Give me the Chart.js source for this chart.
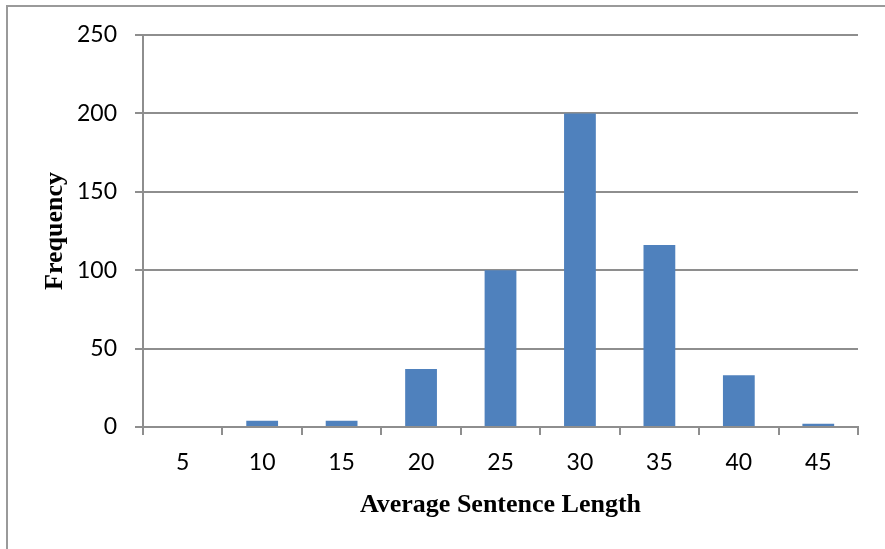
<!DOCTYPE html>
<html>
<head>
<meta charset="utf-8">
<script src="https://cdn.jsdelivr.net/npm/chart.js@4/dist/chart.umd.min.js"></script>
<style>
  html, body { margin: 0; padding: 0; background: #fff; }
  #wrap { position: relative; width: 885px; height: 549px; overflow: hidden; }
  #frame {
    position: absolute; left: 6px; top: 5px; width: 1000px; height: 1000px;
    border-left: 2px solid #9a9a9a; border-top: 2px solid #9a9a9a;
  }
  #c { position: absolute; left: 0; top: 0; }
</style>
</head>
<body>
<div id="wrap">
  <div id="frame"></div>
  <canvas id="c" width="885" height="549"></canvas>
</div>
<script>
// Histogram of average sentence length
const sentenceLengths = ['5', '10', '15', '20', '25', '30', '35', '40', '45'];
const frequencies = [0, 4, 4, 37, 100, 200, 116, 33, 2];
const frequencyTicks = [0, 50, 100, 150, 200, 250];

const gridGray = '#8e8e8e';
const tickFont = { family: 'Lato', size: 23 };
const titleFont = { family: 'Liberation Serif', size: 26, weight: 'bold' };

new Chart(document.getElementById('c'), {
  type: 'bar',
  data: {
    labels: sentenceLengths,
    datasets: [{
      data: frequencies,
      backgroundColor: '#4f81bd',
      borderWidth: 0,
      categoryPercentage: 1,
      barPercentage: 0.4
    }]
  },
  options: {
    responsive: false,
    animation: false,
    events: [],
    layout: { padding: { top: 35, right: 27, left: 0, bottom: 0 } },
    plugins: { legend: { display: false }, tooltip: { enabled: false } },
    scales: {
      x: {
        offset: true,
        grid: {
          display: true, offset: true, drawOnChartArea: false,
          drawTicks: true, tickLength: 8, color: gridGray, lineWidth: 2
        },
        border: { display: true, color: gridGray, width: 2 },
        ticks: { color: '#000', font: tickFont, padding: 14, maxRotation: 0, autoSkip: false },
        title: {
          display: true, text: 'Average Sentence Length', color: '#000',
          font: titleFont, padding: { top: 0, bottom: 28 }
        },
        afterFit: s => { s.height = 122; }
      },
      y: {
        min: 0, max: 250,
        afterBuildTicks: s => { s.ticks = frequencyTicks.map(v => ({ value: v })); },
        grid: { color: gridGray, lineWidth: 2, drawTicks: true, tickLength: 8 },
        border: { display: true, color: gridGray, width: 2 },
        ticks: { color: '#000', font: tickFont, padding: 18 },
        title: {
          display: true, text: 'Frequency', color: '#000',
          font: titleFont, padding: { top: 40, bottom: 0 }
        },
        afterFit: s => { s.width = 143; }
      }
    }
  }
});
</script>
</body>
</html>
